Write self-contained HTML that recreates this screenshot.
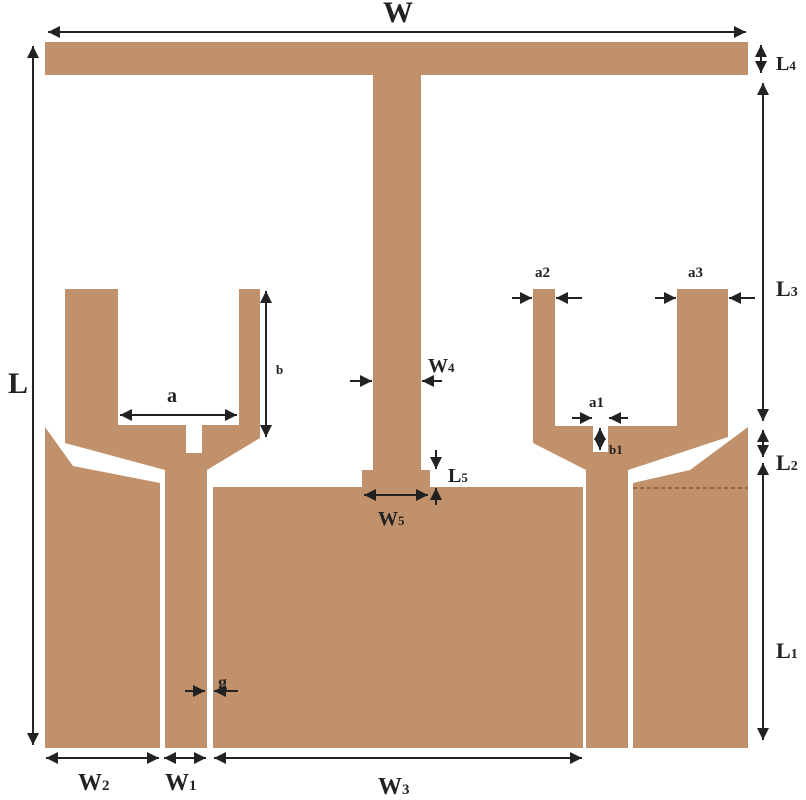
<!DOCTYPE html>
<html><head><meta charset="utf-8"><style>
html,body{margin:0;padding:0;background:#fff;}
svg{display:block;}
text{font-family:"Liberation Serif",serif;font-weight:bold;fill:#222;}
</style></head><body>
<svg width="806" height="800" viewBox="0 0 806 800" xmlns="http://www.w3.org/2000/svg">
<defs>
<marker id="ah" viewBox="0 0 10 10" refX="10" refY="5" markerWidth="6" markerHeight="6" orient="auto-start-reverse"><path d="M0,0 L10,5 L0,10 z" fill="#222"/></marker>
</defs>
<g fill="#C0916A">
<rect x="45" y="42" width="703" height="33"/>
<rect x="373" y="75" width="48" height="400"/>
<rect x="362" y="470" width="68" height="17"/>
<rect x="213" y="487" width="370" height="261"/>
<path d="M65,289 L118,289 L118,425 L186,425 L186,453 L202,453 L202,425 L239,425 L239,289 L260,289 L260,438 L207,470 L207,748 L165,748 L165,470 L65,443 Z"/>
<path d="M45,427 L73,466 L160,483 L160,748 L45,748 Z"/>
<path d="M533,289 L555,289 L555,426 L593,426 L593,452 L608,452 L608,426 L677,426 L677,289 L728,289 L728,437 L628,470 L628,748 L586,748 L586,470 L533,443 Z"/>
<path d="M633,483 L690,470 L748,427 L748,748 L633,748 Z"/>
</g>
<line x1="633" y1="488" x2="748" y2="488" stroke="#6b3a1a" stroke-width="1" stroke-dasharray="4,3"/>
<g stroke="#222" stroke-width="2" fill="none">
<line x1="48" y1="32" x2="746" y2="32" marker-start="url(#ah)" marker-end="url(#ah)"/>
<line x1="33" y1="46" x2="33" y2="745" marker-start="url(#ah)" marker-end="url(#ah)"/>
<line x1="761" y1="45" x2="761" y2="73" marker-start="url(#ah)" marker-end="url(#ah)"/>
<line x1="763" y1="83" x2="763" y2="421" marker-start="url(#ah)" marker-end="url(#ah)"/>
<line x1="763" y1="430" x2="763" y2="457" marker-start="url(#ah)" marker-end="url(#ah)"/>
<line x1="763" y1="463" x2="763" y2="740" marker-start="url(#ah)" marker-end="url(#ah)"/>
<line x1="46" y1="758" x2="159" y2="758" marker-start="url(#ah)" marker-end="url(#ah)"/>
<line x1="164" y1="758" x2="206" y2="758" marker-start="url(#ah)" marker-end="url(#ah)"/>
<line x1="214" y1="758" x2="582" y2="758" marker-start="url(#ah)" marker-end="url(#ah)"/>
<line x1="120" y1="415" x2="237" y2="415" marker-start="url(#ah)" marker-end="url(#ah)"/>
<line x1="266" y1="291" x2="266" y2="437" marker-start="url(#ah)" marker-end="url(#ah)"/>
<line x1="350" y1="381" x2="372" y2="381" marker-end="url(#ah)"/>
<line x1="442" y1="381" x2="422" y2="381" marker-end="url(#ah)"/>
<line x1="364" y1="495" x2="428" y2="495" marker-start="url(#ah)" marker-end="url(#ah)"/>
<line x1="436" y1="450" x2="436" y2="469" marker-end="url(#ah)"/>
<line x1="436" y1="505" x2="436" y2="488" marker-end="url(#ah)"/>
<line x1="185" y1="691" x2="205" y2="691" marker-end="url(#ah)"/>
<line x1="238" y1="691" x2="214" y2="691" marker-end="url(#ah)"/>
<line x1="512" y1="298" x2="532" y2="298" marker-end="url(#ah)"/>
<line x1="582" y1="298" x2="556" y2="298" marker-end="url(#ah)"/>
<line x1="655" y1="298" x2="676" y2="298" marker-end="url(#ah)"/>
<line x1="755" y1="298" x2="729" y2="298" marker-end="url(#ah)"/>
<line x1="572" y1="418" x2="592" y2="418" marker-end="url(#ah)"/>
<line x1="628" y1="418" x2="609" y2="418" marker-end="url(#ah)"/>
<line x1="600" y1="428" x2="600" y2="450" marker-start="url(#ah)" marker-end="url(#ah)"/>
</g>
<text x="398" y="22" font-size="30" text-anchor="middle">W</text>
<text x="8" y="393" font-size="30">L</text>
<text x="776" y="70" font-size="20">L<tspan font-size="13">4</tspan></text>
<text x="776" y="296" font-size="22">L<tspan font-size="14">3</tspan></text>
<text x="776" y="470" font-size="22">L<tspan font-size="14">2</tspan></text>
<text x="776" y="658" font-size="22">L<tspan font-size="14">1</tspan></text>
<text x="78" y="790" font-size="24">W<tspan font-size="15">2</tspan></text>
<text x="165" y="790" font-size="24">W<tspan font-size="15">1</tspan></text>
<text x="378" y="794" font-size="24">W<tspan font-size="15">3</tspan></text>
<text x="167" y="402" font-size="20">a</text>
<text x="276" y="374" font-size="13" fill="#777">b</text>
<text x="428" y="372" font-size="20">W<tspan font-size="13">4</tspan></text>
<text x="378" y="525" font-size="20">W<tspan font-size="13">5</tspan></text>
<text x="448" y="482" font-size="20">L<tspan font-size="13">5</tspan></text>
<text x="218" y="688" font-size="18">g</text>
<text x="535" y="277" font-size="15">a2</text>
<text x="688" y="277" font-size="15">a3</text>
<text x="589" y="407" font-size="15">a1</text>
<text x="609" y="454" font-size="13">b1</text>
</svg>
</body></html>
